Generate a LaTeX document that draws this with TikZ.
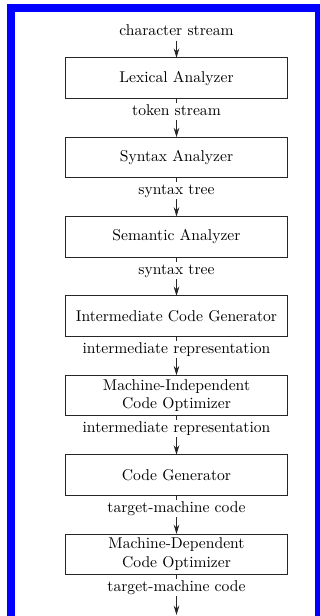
\documentclass[tikz,border=0pt]{standalone}
\usepackage{tikz}
\usetikzlibrary{arrows.meta, positioning}
\tikzset{
  phase/.style={draw=black!85, line width=0.6pt, outer sep=0pt, minimum width=142pt, minimum height=26pt, inner sep=2pt, align=center},
  stream/.style={inner sep=1pt, outer sep=0pt, text height=7pt, text depth=2pt},
  flow/.style={line width=0.5pt, black!85}
}

\begin{document}
\begin{tikzpicture}[>={Stealth[length=6pt, width=3.6pt]}, x=0.64pt, y=0.64pt]
\useasboundingbox (0,0) rectangle (320,616);
% blue frame
\fill[blue] (7,604) rectangle (320,612);
\fill[blue] (7,0) rectangle (15,612);
\fill[blue] (315,0) rectangle (320,612);

\node[stream] (s0) at (176.5,584) {character stream};
\node[phase, below=11pt of s0] (lex) {Lexical Analyzer};
\node[stream, below=2.8pt of lex] (s1) {token stream};
\node[phase, below=11pt of s1] (syn) {Syntax Analyzer};
\node[stream, below=2.8pt of syn] (s2) {syntax tree};
\node[phase, below=11pt of s2] (sem) {Semantic Analyzer};
\node[stream, below=2.8pt of sem] (s3) {syntax tree};
\node[phase, below=11pt of s3] (icg) {Intermediate Code Generator};
\node[stream, below=2.8pt of icg] (s4) {intermediate representation};
\node[phase, below=11pt of s4] (mio) {Machine-Independent\\Code Optimizer};
\node[stream, below=2.8pt of mio] (s5) {intermediate representation};
\node[phase, below=11pt of s5] (cg) {Code Generator};
\node[stream, below=2.8pt of cg] (s6) {target-machine code};
\node[phase, below=11pt of s6] (mdo) {Machine-Dependent\\Code Optimizer};
\node[stream, below=2.8pt of mdo] (s7) {target-machine code};
\coordinate (out) at (176.5,1);

\draw[flow, ->] (s0) -- (lex);
\draw[flow] (lex) -- (s1);
\draw[flow, ->] (s1) -- (syn);
\draw[flow] (syn) -- (s2);
\draw[flow, ->] (s2) -- (sem);
\draw[flow] (sem) -- (s3);
\draw[flow, ->] (s3) -- (icg);
\draw[flow] (icg) -- (s4);
\draw[flow, ->] (s4) -- (mio);
\draw[flow] (mio) -- (s5);
\draw[flow, ->] (s5) -- (cg);
\draw[flow] (cg) -- (s6);
\draw[flow, ->] (s6) -- (mdo);
\draw[flow] (mdo) -- (s7);
\draw[flow, ->] (s7) -- (out);
\end{tikzpicture}
\end{document}
